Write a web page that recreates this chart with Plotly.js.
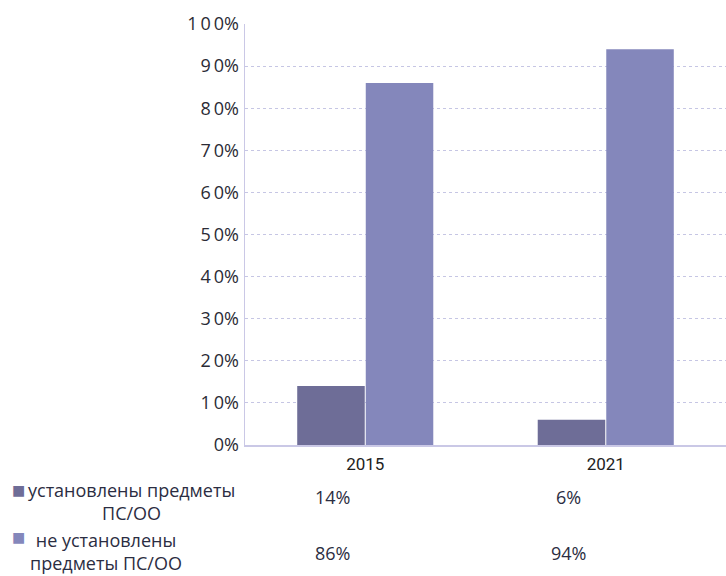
<!DOCTYPE html>
<html>
<head>
<meta charset="utf-8">
<script src="https://cdn.plot.ly/plotly-3.0.1.min.js"></script>
<style>html,body{margin:0;padding:0;background:#fff;}#chart{width:726px;height:576px;}</style>
</head>
<body>
<div id="chart"></div>
<script>
var years = ['2015', '2021'];
var seriesNames = ['установлены предметы<br>ПС/ОО', 'не установлены<br>предметы ПС/ОО'];
var installed = [14, 6];
var notInstalled = [86, 94];
var tickVals = [0, 10, 20, 30, 40, 50, 60, 70, 80, 90, 100];
var tickText = ['0%', '1\u20090%', '2\u20090%', '3\u20090%', '4\u20090%', '5\u20090%', '6\u20090%', '7\u20090%', '8\u20090%', '9\u20090%', '1\u20090\u20090%'];

var colors = ['#6e6d97', '#8487bb'];
var font = 'Open Sans, Lato, sans-serif';

var traces = [
  {type: 'bar', x: years, y: installed, name: seriesNames[0], marker: {color: colors[0]}, hoverinfo: 'none'},
  {type: 'bar', x: years, y: notInstalled, name: seriesNames[1], marker: {color: colors[1]}, hoverinfo: 'none'}
];

var plotTop = 24, plotBottom = 445, plotH = plotBottom - plotTop;
function py(p) { return (plotBottom - p) / plotH; }

var annotations = [];
var rows = [installed, notInstalled];
var rowValY = [497, 553];
var xShift = [-33, -37];
rows.forEach(function (vals, r) {
  vals.forEach(function (v, i) {
    annotations.push({xref: 'x', yref: 'paper', x: i, y: py(rowValY[r]), xshift: xShift[i],
      text: v + '%', showarrow: false, xanchor: 'center', yanchor: 'middle',
      font: {family: font, size: 18, color: '#2b2d42'}});
  });
});
// legend-like labels
var labelX = [131, 106];
var labelY = [501, 551];
seriesNames.forEach(function (n, r) {
  annotations.push({xref: 'paper', yref: 'paper', x: (labelX[r] - 245) / 481, y: py(labelY[r]),
    text: n, showarrow: false, xanchor: 'center', yanchor: 'middle', align: 'center',
    font: {family: font, size: 18, color: '#2b2d42'}});
});
var sqY = [490, 537];
colors.forEach(function (c, r) {
  annotations.push({xref: 'paper', yref: 'paper', x: (18 - 245) / 481, y: py(sqY[r]),
    text: '■', showarrow: false, xanchor: 'center', yanchor: 'middle',
    font: {family: 'DejaVu Sans', size: 14, color: c}});
});

var layout = {
  width: 726, height: 576,
  margin: {l: 245, r: 0, t: plotTop, b: 576 - plotBottom},
  paper_bgcolor: '#fff', plot_bgcolor: '#fff',
  showlegend: false,
  barmode: 'group', bargap: 0.43, bargroupgap: 0.015,
  xaxis: {
    type: 'category', range: [-0.5, 1.5], showgrid: false, zeroline: false,
    showline: true, linecolor: '#cac8e6', linewidth: 2,
    ticks: '', tickfont: {family: 'Roboto, sans-serif', size: 17, color: '#222'},
    ticklabelstandoff: 3
  },
  yaxis: {
    range: [0, 100], tickvals: tickVals, ticktext: tickText,
    showgrid: true, gridcolor: '#c6c6e4', gridwidth: 1, griddash: 'dot',
    zeroline: false, showline: true, linecolor: '#cac8e6', linewidth: 1.5,
    ticks: '', tickfont: {family: font, size: 18, color: '#2b2b35'},
    ticklabelstandoff: 1
  },
  annotations: annotations
};

Plotly.newPlot('chart', traces, layout, {displayModeBar: false, staticPlot: true});
</script>
</body>
</html>
